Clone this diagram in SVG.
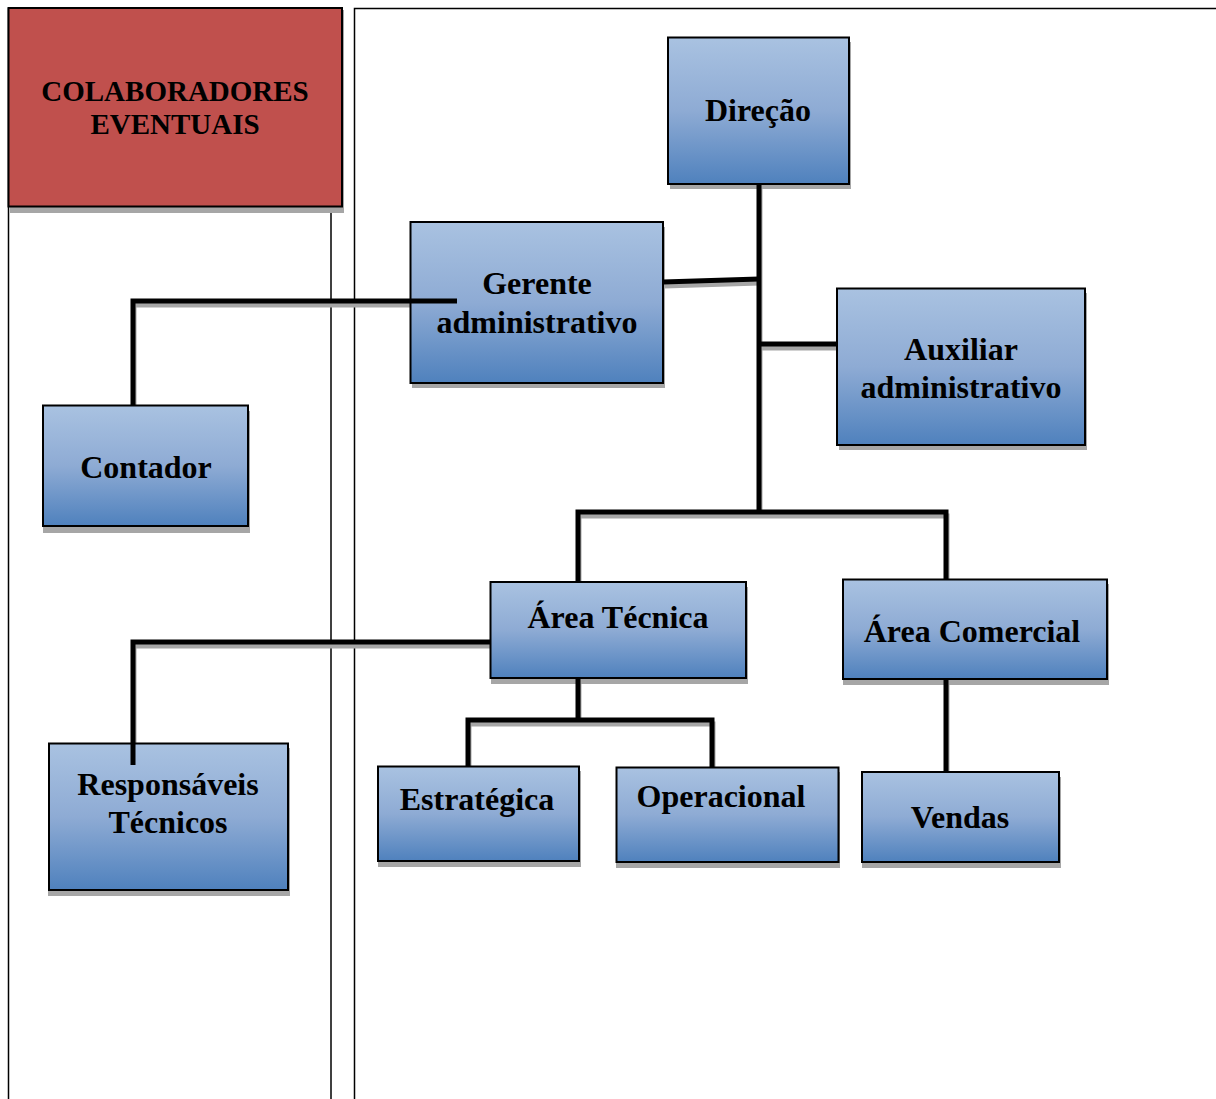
<svg xmlns="http://www.w3.org/2000/svg" width="1216" height="1099" viewBox="0 0 1216 1099">
<defs>
<linearGradient id="blue" x1="0" y1="0" x2="0" y2="1">
<stop offset="0" stop-color="#a9c2e1"/>
<stop offset="0.5" stop-color="#8eabd4"/>
<stop offset="1" stop-color="#4f81bd"/>
</linearGradient>
</defs>
<style>
.box{fill:url(#blue);stroke:#000;stroke-width:2}
.shadow{fill:#a6a6a6}
.lbl{font-family:"Liberation Serif","Times New Roman",serif;font-weight:bold;font-size:32px;fill:#000;text-anchor:middle}
.panel{fill:none;stroke:#000;stroke-width:1.5}
.conn{fill:none;stroke:#000;stroke-width:5}
.connsh{fill:none;stroke:#a6a6a6;stroke-width:5}
</style>
<rect width="1216" height="1099" fill="#fff"/>
<g id="panels">
<line class="panel" x1="8.5" y1="8" x2="8.5" y2="1099"/>
<line class="panel" x1="331" y1="206" x2="331" y2="1099"/>
<path class="panel" d="M354.5 1099 V8.5 H1216"/>
</g>
<g id="colaboradores">
<rect class="shadow" x="10" y="10" width="334" height="203"/>
<rect x="8.5" y="8" width="333.5" height="198.5" fill="#c0504d" stroke="#000" stroke-width="2"/>
<text class="lbl" style="font-size:29px" x="175" y="101">COLABORADORES</text>
<text class="lbl" style="font-size:29px" x="175" y="134">EVENTUAIS</text>
</g>
<g id="connectors-shadow" transform="translate(1,4)">
<path class="connsh" d="M759 184 V512"/>
<path class="connsh" d="M663 282 L759 279"/>
<path class="connsh" d="M759 344 H837"/>
<path class="connsh" d="M578 582 V512 H946 V579"/>
<path class="connsh" d="M578 678 V720"/>
<path class="connsh" d="M468 766 V720 H712 V767"/>
<path class="connsh" d="M946 679 V772"/>
<path class="connsh" d="M457 301 H133 V405"/>
<path class="connsh" d="M491 642 H133 V765"/>
</g>
<g id="nodes">
<g id="direcao">
<rect class="shadow" x="670" y="42" width="181" height="147"/>
<rect class="box" x="668" y="37.5" width="181" height="146.5"/>
<text class="lbl" x="758" y="121">Direção</text>
</g>
<g id="gerente">
<rect class="shadow" x="412" y="227" width="253" height="161"/>
<rect class="box" x="410.5" y="222" width="252.5" height="161"/>
<text class="lbl" x="537" y="294">Gerente</text>
<text class="lbl" x="537" y="333">administrativo</text>
</g>
<g id="auxiliar">
<rect class="shadow" x="839" y="293" width="248" height="157"/>
<rect class="box" x="837" y="288.5" width="248" height="156.5"/>
<text class="lbl" x="961" y="360">Auxiliar</text>
<text class="lbl" x="961" y="398">administrativo</text>
</g>
<g id="contador">
<rect class="shadow" x="43" y="411" width="207" height="122"/>
<rect class="box" x="43" y="405.5" width="205" height="120.5"/>
<text class="lbl" x="146" y="478">Contador</text>
</g>
<g id="area-tecnica">
<rect class="shadow" x="491" y="587" width="257" height="97"/>
<rect class="box" x="490.5" y="582" width="255.5" height="96"/>
<text class="lbl" x="618" y="628">Área Técnica</text>
</g>
<g id="area-comercial">
<rect class="shadow" x="843" y="584" width="266" height="101"/>
<rect class="box" x="843" y="579.5" width="264" height="99.5"/>
<text class="lbl" x="972" y="642">Área Comercial</text>
</g>
<g id="estrategica">
<rect class="shadow" x="378" y="771" width="203" height="96"/>
<rect class="box" x="378" y="766.5" width="201" height="94.5"/>
<text class="lbl" x="477" y="810">Estratégica</text>
</g>
<g id="operacional">
<rect class="shadow" x="616" y="772" width="224" height="96"/>
<rect class="box" x="616.5" y="767.5" width="222" height="94.5"/>
<text class="lbl" x="721" y="807">Operacional</text>
</g>
<g id="vendas">
<rect class="shadow" x="862" y="777" width="199" height="91"/>
<rect class="box" x="862" y="772" width="197" height="90"/>
<text class="lbl" x="960" y="828">Vendas</text>
</g>
<g id="responsaveis">
<rect class="shadow" x="48" y="748" width="242" height="148"/>
<rect class="box" x="49" y="743.5" width="239" height="146.5"/>
<text class="lbl" x="168" y="795">Responsáveis</text>
<text class="lbl" x="168" y="833">Técnicos</text>
</g>
</g>
<g id="connectors">
<path class="conn" d="M759 184 V512"/>
<path class="conn" d="M663 282 L759 279"/>
<path class="conn" d="M759 344 H837"/>
<path class="conn" d="M578 582 V512 H946 V579"/>
<path class="conn" d="M578 678 V720"/>
<path class="conn" d="M468 766 V720 H712 V767"/>
<path class="conn" d="M946 679 V772"/>
<path class="conn" d="M457 301 H133 V405"/>
<path class="conn" d="M491 642 H133 V765"/>
</g>
</svg>
